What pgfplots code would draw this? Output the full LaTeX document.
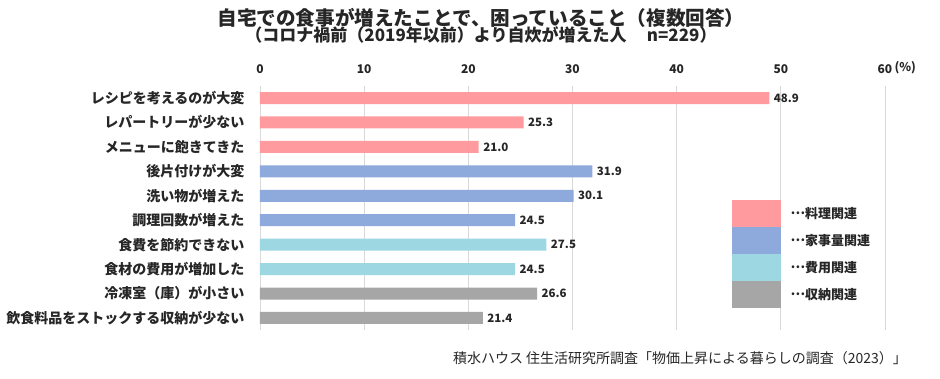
\documentclass[border=0pt]{standalone}
\usepackage{pgfplots}
\pgfplotsset{compat=1.18}
\usepackage{fontspec}
\setmainfont{Noto Sans CJK JP}
\definecolor{pinkc}{HTML}{FF9B9E}
\definecolor{bluec}{HTML}{8EA9DB}
\definecolor{cyanc}{HTML}{9DD8E2}
\definecolor{grayc}{HTML}{A6A6A6}
\definecolor{txt}{HTML}{262626}
\definecolor{gridc}{HTML}{D9D9D9}
\newcommand{\mdots}{\raisebox{0.3em}{…}}
\begin{document}
\begin{tikzpicture}[x=1pt,y=1pt]
\path (0,0) rectangle (940,378);
\node[font=\bfseries\fontsize{19.6}{19.6}\selectfont, text=txt] at (481,360) {自宅での食事が増えたことで、困っていること（複数回答）};
\node[font=\bfseries\fontsize{17}{17}\selectfont, text=txt] at (481,343) {（コロナ禍前（2019年以前）より自炊が増えた人\hspace{1.2em}n=229）};
\node[font=\fontsize{14}{14}\selectfont, text=txt] at (680,20) {積水ハウス 住生活研究所調査「物価上昇による暮らしの調査（2023）」};
\begin{axis}[
  at={(260pt,292.2pt)}, anchor=north west,
  scale only axis, width=625pt, height=244.4pt,
  xmin=0, xmax=60, ymin=-0.5, ymax=9.5, y dir=reverse,
  xbar, bar width=12pt, bar shift=0pt,
  axis line style={draw=none},
  xtick={0,10,...,60}, xticklabel pos=upper,
  xmajorgrids, grid style={draw=gridc, line width=0.8pt},
  major tick length=0pt,
  /pgf/number format/assume math mode=true,
  xticklabel style={font=\bfseries\fontsize{12}{12}\selectfont, text=txt, yshift=9pt},
  ytick={0,...,9},
  yticklabels={レシピを考えるのが大変,レパートリーが少ない,メニューに飽きてきた,後片付けが大変,洗い物が増えた,調理回数が増えた,食費を節約できない,食材の費用が増加した,冷凍室（庫）が小さい,飲食料品をストックする収納が少ない},
  yticklabel style={font=\bfseries\fontsize{14}{14}\selectfont, text=txt, xshift=-12pt},
  enlargelimits=false, clip=false,
  nodes near coords,
  every node near coord/.append style={font=\bfseries\fontsize{11.5}{11.5}\selectfont, text=txt, anchor=west, xshift=1pt,
    /pgf/number format/fixed, /pgf/number format/fixed zerofill, /pgf/number format/precision=1},
]
\addplot[fill=pinkc, draw=none] coordinates {(48.9,0) (25.3,1) (21.0,2)};
\addplot[fill=bluec, draw=none] coordinates {(31.9,3) (30.1,4) (24.5,5)};
\addplot[fill=cyanc, draw=none] coordinates {(27.5,6) (24.5,7)};
\addplot[fill=grayc, draw=none] coordinates {(26.6,8) (21.4,9)};
\fill[pinkc] (axis cs:45.3,4.17) rectangle (axis cs:50,5.27);
\fill[bluec] (axis cs:45.3,5.27) rectangle (axis cs:50,6.37);
\fill[cyanc] (axis cs:45.3,6.37) rectangle (axis cs:50,7.47);
\fill[grayc] (axis cs:45.3,7.47) rectangle (axis cs:50,8.59);
\begin{scope}[every node/.style={anchor=west, font=\bfseries\fontsize{13}{13}\selectfont, text=txt}]
\node at (axis cs:50.6,4.72) {\mdots 料理関連};
\node at (axis cs:50.6,5.82) {\mdots 家事量関連};
\node at (axis cs:50.6,6.92) {\mdots 費用関連};
\node at (axis cs:50.6,8.03) {\mdots 収納関連};
\end{scope}
\node[font=\bfseries\fontsize{12}{12}\selectfont, text=txt, anchor=west, inner sep=0pt] at (axis cs:60.9,-0.5) [yshift=18.5pt] {(\%)};
\end{axis}
\end{tikzpicture}
\end{document}
